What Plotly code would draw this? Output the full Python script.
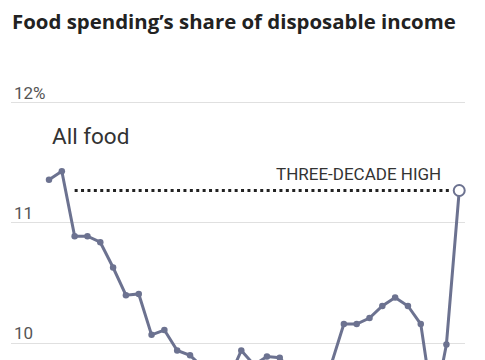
import plotly.graph_objects as go

years = list(range(1990, 2023))
share = [11.36, 11.43, 10.89, 10.89, 10.84, 10.63, 10.40, 10.41, 10.07, 10.11,
         9.94, 9.90, 9.80, 9.72, 9.70, 9.94, 9.82, 9.89, 9.88, 9.75,
         9.65, 9.70, 9.82, 10.16, 10.16, 10.21, 10.31, 10.38, 10.31, 10.16,
         9.44, 9.99, 11.27]
tick_vals = [10, 11, 12]
tick_text = ["10", "11", "12%"]

LINE = "#6c7290"

fig = go.Figure()
fig.add_trace(go.Scatter(
    x=years, y=share,
    mode="lines+markers",
    line=dict(color=LINE, width=3),
    marker=dict(color=LINE, size=6.5),
    hoverinfo="skip", showlegend=False,
))
fig.add_trace(go.Scatter(
    x=[years[-1]], y=[share[-1]],
    mode="markers",
    marker=dict(color="white", size=11, line=dict(color=LINE, width=2)),
    cliponaxis=False, hoverinfo="skip", showlegend=False,
))

fig.add_shape(type="line", xref="x", yref="y",
              x0=years[2], x1=years[-1] - 0.55, y0=share[-1], y1=share[-1],
              line=dict(color="#222", width=3, dash="3px,3.4px"))

fig.add_annotation(x=years[-1], y=share[-1], xref="x", yref="y",
                   text="THREE-DECADE HIGH", showarrow=False,
                   xanchor="right", yanchor="middle", xshift=-16, yshift=16.5,
                   font=dict(family="Roboto, sans-serif", size=17, color="#333"))
fig.add_annotation(x=years[0], y=11.72, xref="x", yref="y",
                   text="All food", showarrow=False, xshift=1,
                   xanchor="left", yanchor="middle",
                   font=dict(family="Roboto, sans-serif", size=22.5, color="#333"))
fig.add_annotation(x=0, y=1.13, xref="paper", yref="paper",
                   text="<b>Food spending’s share of disposable income</b>",
                   showarrow=False, xanchor="left", yanchor="middle",
                   xshift=-1,
                   font=dict(family="Open Sans, sans-serif", size=20.4, color="#222"))

fig.update_layout(
    width=477, height=352,
    margin=dict(l=3, r=20, t=52, b=0),
    paper_bgcolor="white", plot_bgcolor="white",
    xaxis=dict(range=[1987.036, 2022.45], showgrid=False, zeroline=False,
               showticklabels=False, ticks="", showline=False, fixedrange=True),
    yaxis=dict(range=[9.861, 12.355], tickvals=tick_vals, ticktext=tick_text,
               showgrid=True, gridcolor="#e0e0e0", gridwidth=1.2,
               zeroline=False, showline=False, ticks="",
               ticklabelposition="inside top", ticklabelshift=2,
               tickfont=dict(family="Roboto, sans-serif", size=17, color="#555"),
               fixedrange=True),
)

fig.write_html("out.html")
